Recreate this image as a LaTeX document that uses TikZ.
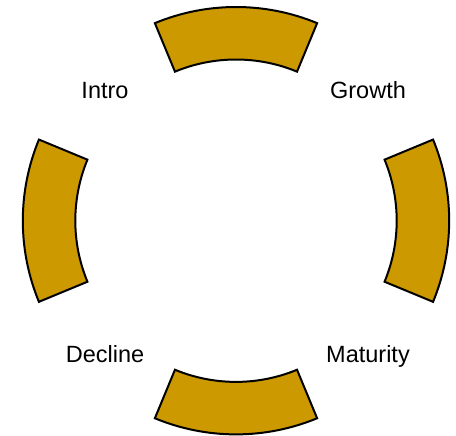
\documentclass[tikz,border=0pt]{standalone}
\usepackage{fontspec}
\setmainfont{Liberation Sans}
\definecolor{gold}{RGB}{204,153,0}
\begin{document}
\begin{tikzpicture}[x=1pt,y=1pt,
  sector/.style={fill=gold,draw=black,line width=2pt,line join=miter},
  lbl/.style={font=\fontsize{23.5}{28}\selectfont,text height=0.716em,text depth=0pt,inner sep=0pt,anchor=center}]
\useasboundingbox (-236,-215.3) rectangle (220,220.7);
\coordinate (c) at (0,0);
\def\Ro{212}
\def\Ri{159.5}
% top
\begin{scope}[shift={(0,1.7)}]
\draw[sector] (67.5:\Ro) arc[start angle=67.5,end angle=112.5,radius=\Ro] -- (112.5:\Ri) arc[start angle=112.5,end angle=67.5,radius=\Ri] -- cycle;
\end{scope}
% bottom
\begin{scope}[shift={(0,-1.7)}]
\draw[sector] (247.5:\Ro) arc[start angle=247.5,end angle=292.5,radius=\Ro] -- (292.5:\Ri) arc[start angle=292.5,end angle=247.5,radius=\Ri] -- cycle;
\end{scope}
% left
\begin{scope}[shift={(-1.2,0)}]
\draw[sector] (157.5:\Ro) arc[start angle=157.5,end angle=202.5,radius=\Ro] -- (202.5:\Ri) arc[start angle=202.5,end angle=157.5,radius=\Ri] -- cycle;
\end{scope}
% right
\begin{scope}[shift={(1.2,0)}]
\draw[sector] (-22.5:\Ro) arc[start angle=-22.5,end angle=22.5,radius=\Ro] -- (22.5:\Ri) arc[start angle=22.5,end angle=-22.5,radius=\Ri] -- cycle;
\end{scope}
\node[lbl] (intro) at (-131,126) {Intro};
\node[lbl] (growth) at (132,126) {Growth};
\node[lbl] (decline) at (-131,-138) {Decline};
\node[lbl] (maturity) at (132,-138) {Maturity};
\end{tikzpicture}
\end{document}
